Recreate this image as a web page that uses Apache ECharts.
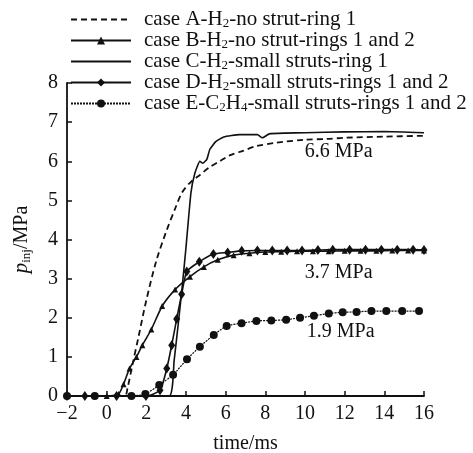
<!DOCTYPE html>
<html>
<head>
<meta charset="utf-8">
<script src="https://cdn.jsdelivr.net/npm/echarts@6.0.0/dist/echarts.min.js"></script>
<style>
  html, body { margin: 0; padding: 0; background: #fff; }
  #chart { width: 473px; height: 453px; }
</style>
</head>
<body>
<div id="chart"></div>
<script>
// values: [time/ms, p_inj/MPa]
const caseA = [[-2, 0], [0.9, 0], [1.05, 0.2], [1.3, 0.8], [1.6, 1.5], [2.0, 2.45], [2.5, 3.45], [3.0, 4.2],
  [3.5, 4.85], [3.8, 5.2], [4.2, 5.45], [4.7, 5.65], [5.2, 5.85], [5.7, 6.0], [6.2, 6.15], [6.9, 6.27],
  [7.5, 6.38], [8.5, 6.47], [10, 6.55], [11.1, 6.57], [12, 6.6], [14, 6.63], [16, 6.65]];
const caseB = [[-2, 0], [0, 0], [0.6, 0.05], [0.85, 0.3], [1.15, 0.7], [1.5, 1.0], [1.8, 1.3], [2.25, 1.7],
  [2.8, 2.3], [3.45, 2.72], [4.2, 3.05], [4.9, 3.3], [5.6, 3.48], [6.4, 3.6], [7.2, 3.65], [8, 3.68],
  [8.8, 3.69], [9.6, 3.7], [10.4, 3.7], [11.2, 3.7], [12, 3.71], [12.8, 3.71], [13.6, 3.71], [14.4, 3.72],
  [15.2, 3.72], [16, 3.72]];
const caseC = [[-2, 0], [3.15, 0], [3.4, 0.9], [3.6, 1.8], [3.8, 2.75], [4.0, 3.8], [4.25, 5.2], [4.45, 5.7],
  [4.7, 6.0], [4.85, 5.95], [5.05, 6.05], [5.2, 6.3], [5.5, 6.5], [5.9, 6.62], [6.7, 6.68], [7.6, 6.68],
  [7.85, 6.6], [8.2, 6.7], [9, 6.72], [10, 6.73], [12, 6.75], [14, 6.76], [16, 6.73]];
const caseD = [[-2, 0], [-1.1, 0], [0.5, 0], [1.98, 0], [2.69, 0.15], [3.03, 0.7], [3.28, 1.3], [3.53, 1.97],
  [3.78, 2.6], [4.04, 3.18], [4.67, 3.43], [5.38, 3.63], [6.1, 3.67], [6.81, 3.71], [7.6, 3.72], [8.35, 3.72],
  [9.1, 3.72], [9.85, 3.72], [10.65, 3.73], [11.4, 3.74], [12.25, 3.74], [13.05, 3.74], [13.85, 3.74],
  [14.65, 3.74], [15.45, 3.74], [16, 3.73]];
const caseE = [[-2, 0], [-0.6, 0], [1.25, 0], [1.95, 0.05], [2.65, 0.28], [3.35, 0.54], [4.05, 0.94], [4.7, 1.26],
  [5.4, 1.56], [6.05, 1.79], [6.8, 1.86], [7.55, 1.92], [8.3, 1.93], [9.05, 1.95], [9.75, 2.0], [10.45, 2.05],
  [11.2, 2.11], [11.9, 2.14], [12.6, 2.15], [13.35, 2.17], [14.1, 2.17], [14.9, 2.17], [15.75, 2.17]];

const seriesNames = ['A', 'B', 'C', 'D', 'E'];
const legendTexts = [
  'case A-H{sub|2}-no strut-ring 1',
  'case B-H{sub|2}-no strut-rings 1 and 2',
  'case C-H{sub|2}-small struts-ring 1',
  'case D-H{sub|2}-small struts-rings 1 and 2',
  'case E-C{sub|2}H{sub|4}-small struts-rings 1 and 2'
];
// pressure labels: [x, y, text]
const noteX = [11.7, 11.7, 11.8];
const noteY = [6.24, 3.15, 1.64];
const noteText = ['6.6 MPa', '3.7 MPa', '1.9 MPa'];

const FONT = 'Liberation Serif';
const INK = '#111';

const chart = echarts.init(document.getElementById('chart'));

const line = (name, data, extra) => ({
  name,
  type: 'line',
  data,
  smooth: 0.2,
  lineStyle: { color: INK, width: 1.6 },
  itemStyle: { color: INK },
  ...extra
});

// no marker in the legend for the plain lines
const legendData = seriesNames.map((n) =>
  (n === 'A' || n === 'C') ? { name: n, itemStyle: { opacity: 0 } } : { name: n });

chart.setOption({
  animation: false,
  grid: { left: 67, right: 49, top: 83, bottom: 57, outerBoundsMode: 'none' },
  legend: {
    orient: 'vertical',
    left: 65,
    top: 4,
    itemWidth: 60,
    itemHeight: 10,
    itemGap: 0,
    data: legendData,
    formatter: (n) => legendTexts[seriesNames.indexOf(n)],
    textStyle: {
      color: INK, fontFamily: FONT, fontSize: 21, lineHeight: 20, padding: [0, 0, 0, 8],
      rich: { sub: { fontSize: 13, fontFamily: FONT, color: INK, lineHeight: 20, padding: [8, 0, 0, 0] } }
    }
  },
  xAxis: {
    type: 'value', min: -2, max: 16, interval: 2,
    name: 'time/ms', nameLocation: 'middle', nameGap: 38,
    nameTextStyle: { color: INK, fontFamily: FONT, fontSize: 20 },
    axisLine: { onZero: false, lineStyle: { color: INK, width: 1.8 } },
    axisTick: { inside: true, length: 5, lineStyle: { color: INK, width: 1.5 } },
    axisLabel: { color: INK, fontFamily: FONT, fontSize: 20, margin: 8,
      formatter: (v) => v < 0 ? '\u2212' + (-v) : String(v) },
    splitLine: { show: false }
  },
  yAxis: {
    type: 'value', min: 0, max: 8, interval: 1,
    name: '{i|p}{sub|inj}/MPa', nameLocation: 'middle', nameGap: 34, nameRotate: 90,
    nameTextStyle: { color: INK, fontFamily: FONT, fontSize: 20,
      rich: { i: { fontStyle: 'italic', fontFamily: FONT, fontSize: 21, color: INK },
              sub: { fontSize: 13, fontFamily: FONT, color: INK, padding: [10, 0, 0, 0] } } },
    axisLine: { onZero: false, lineStyle: { color: INK, width: 1.8 } },
    axisTick: { show: true, inside: true, length: 5, lineStyle: { color: INK, width: 1.5 } },
    axisLabel: { color: INK, fontFamily: FONT, fontSize: 20, margin: 9 },
    splitLine: { show: false }
  },
  series: [
    line('A', caseA, { symbol: 'none', smooth: 0.3, lineStyle: { color: INK, width: 1.8, type: [6, 4] } }),
    line('B', caseB, { symbol: 'triangle', symbolSize: 6 }),
    line('C', caseC, { symbol: 'none', smooth: 0.15 }),
    line('D', caseD, { symbol: 'diamond', symbolSize: [7, 10] }),
    line('E', caseE, { symbol: 'circle', symbolSize: 8, lineStyle: { color: INK, width: 1.2, type: [2, 1] } }),
    {
      name: 'notes',
      type: 'scatter',
      data: noteX.map((x, i) => ({ value: [x, noteY[i]], name: noteText[i] })),
      symbolSize: 0,
      silent: true,
      itemStyle: { color: INK, opacity: 1 },
      label: { show: true, position: 'inside', color: INK, opacity: 1, textBorderWidth: 0,
        fontFamily: FONT, fontSize: 20, formatter: '{b}' },
      z: 5
    }
  ]
});
</script>
</body>
</html>
